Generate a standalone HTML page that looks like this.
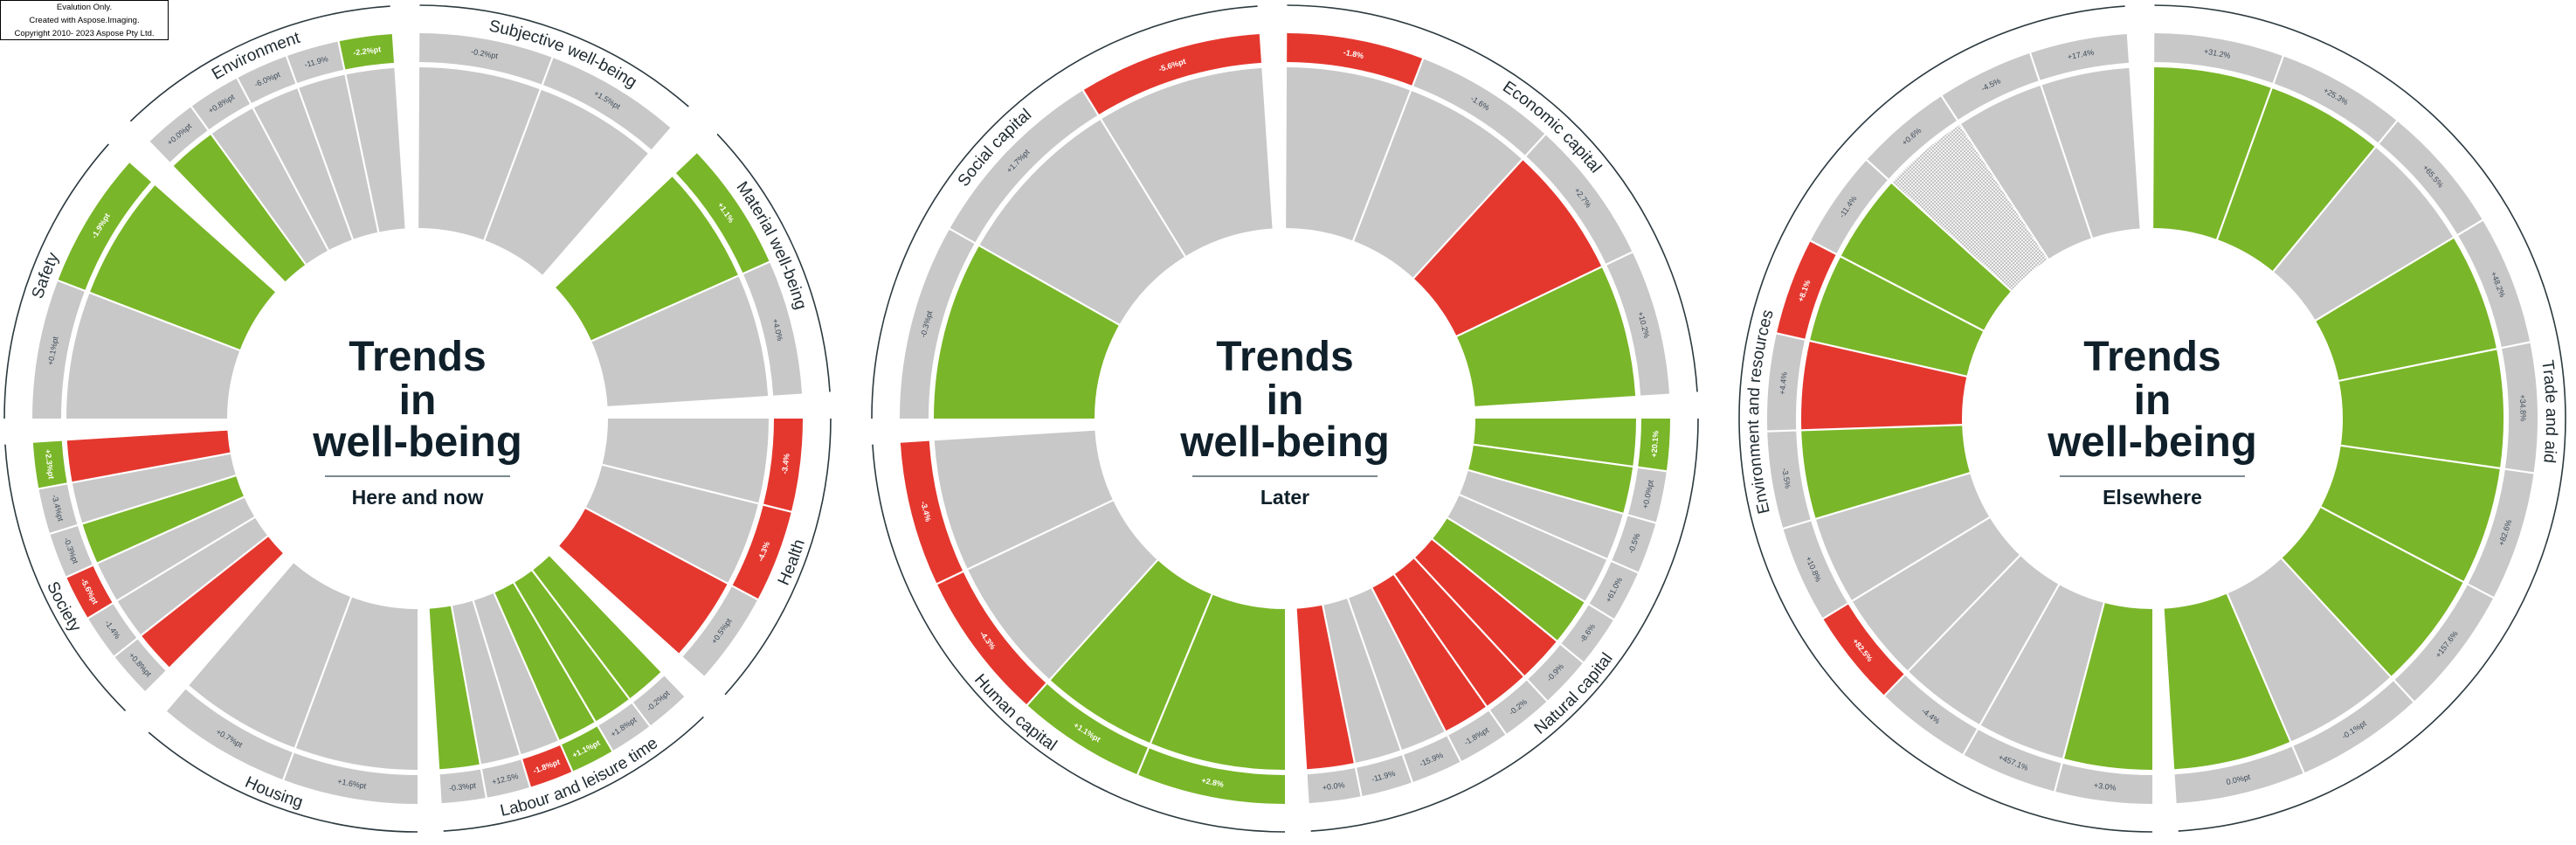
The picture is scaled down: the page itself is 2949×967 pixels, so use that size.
<!DOCTYPE html>
<html><head><meta charset="utf-8">
<style>
html,body{margin:0;padding:0;background:#fff;}
body{width:2949px;height:962px;overflow:hidden;position:relative;font-family:"Liberation Sans",sans-serif;}
#wm{position:absolute;left:0;top:0;width:193px;height:46px;border:1px solid #000;background:#fff;font-size:9.5px;line-height:15px;text-align:center;color:#000;box-sizing:border-box;padding-top:0px;}
</style></head><body>
<svg id="s" width="2949" height="962" xmlns="http://www.w3.org/2000/svg">
<defs>
<pattern id="dot" width="4" height="4" patternUnits="userSpaceOnUse">
<rect width="4" height="4" fill="#f2f2f2"/><rect width="2" height="2" fill="#c4c4c4"/><rect x="2" y="2" width="2" height="2" fill="#c4c4c4"/>
</pattern>
</defs>
</svg>
<div id="wm">Evalution Only.<br>Created with Aspose.Imaging.<br>Copyright 2010- 2023 Aspose Pty Ltd.</div>
<script>
var NS="http://www.w3.org/2000/svg",svg=document.getElementById('s');
var COL={g:"#7ab629",r:"#e4382f",s:"#c8c8c8",d:"url(#dot)"};
var CY=479,RI=218,RW=402,RB1=408,RB2=441,RL=473;
function P(cx,r,a){a=a*Math.PI/180;return [cx+r*Math.sin(a),CY-r*Math.cos(a)];}
function el(t,at,txt){var e=document.createElementNS(NS,t);for(var k in at)e.setAttribute(k,at[k]);if(txt!==undefined)e.textContent=txt;svg.appendChild(e);return e;}
function sector(cx,r1,r2,a1,a2,fill){
 var p1=P(cx,r2,a1),p2=P(cx,r2,a2),p3=P(cx,r1,a2),p4=P(cx,r1,a1),l=(a2-a1)>180?1:0;
 el('path',{d:"M"+p1+" A"+r2+","+r2+" 0 "+l+" 1 "+p2+" L"+p3+" A"+r1+","+r1+" 0 "+l+" 0 "+p4+"Z",fill:fill});
}
function radial(cx,r1,r2,a,w){var p=P(cx,r1,a),q=P(cx,r2,a);el('line',{x1:p[0],y1:p[1],x2:q[0],y2:q[1],stroke:"#fff","stroke-width":w});}
function arc(cx,r,a1,a2){var p=P(cx,r,a1),q=P(cx,r,a2);el('path',{d:"M"+p+" A"+r+","+r+" 0 0 1 "+q,fill:"none",stroke:"#2c3a40","stroke-width":1.6});}
var pid=0;
function label(cx,c,txt,cw){
 var id="lp"+(pid++),span=60,d;
 if(cw){var r=451,p=P(cx,r,c-span),q=P(cx,r,c+span);d="M"+p+" A"+r+","+r+" 0 0 1 "+q;}
 else{var r=465,p=P(cx,r,c+span),q=P(cx,r,c-span);d="M"+p+" A"+r+","+r+" 0 0 0 "+q;}
 var pa=document.createElementNS(NS,'path');pa.setAttribute('id',id);pa.setAttribute('d',d);pa.setAttribute('fill','none');svg.querySelector('defs').appendChild(pa);
 var t=el('text',{"font-size":19,fill:"#1e2a30","font-family":"Liberation Sans, sans-serif"});
 var tp=document.createElementNS(NS,'textPath');tp.setAttribute('href','#'+id);tp.setAttributeNS("http://www.w3.org/1999/xlink","xlink:href","#"+id);tp.setAttribute('startOffset','50%');tp.setAttribute('text-anchor','middle');tp.textContent=txt;t.appendChild(tp);
}
function group(cx,a1,a2,wedges,bands,splits){
 var n=wedges.length,b=[];
 if(splits){b=[a1].concat(splits).concat([a2]);}else{for(var i=0;i<=n;i++)b.push(a1+(a2-a1)*i/n);}
 for(var i=0;i<n;i++)sector(cx,RI,RW,b[i],b[i+1],COL[wedges[i]]);
 for(var i=1;i<n;i++)radial(cx,RI-2,RW+1,b[i],2.2);
 var m=bands.length,bb=[];
 if(m===n){bb=b;}else{for(var i=0;i<=m;i++)bb.push(a1+(a2-a1)*i/m);}
 for(var i=0;i<m;i++)sector(cx,RB1,RB2,bb[i],bb[i+1],COL[bands[i][0]]);
 for(var i=1;i<m;i++)radial(cx,RB1-1,RB2+1,bb[i],2.2);
 for(var i=0;i<m;i++){
  var a=(bb[i]+bb[i+1])/2,pt=P(cx,424.5,a),rot=(a>90&&a<270)?a-180:a;
  var c=bands[i][0]==='s'?"#3c4a58":"#fff";
  el('text',{x:0,y:0,transform:"translate("+pt[0].toFixed(1)+","+pt[1].toFixed(1)+") rotate("+rot.toFixed(1)+")","text-anchor":"middle","dominant-baseline":"central","font-size":9,fill:c,"font-weight":bands[i][0]==='s'?"normal":"bold"},bands[i].slice(1));
 }
 arc(cx,RL,a1,a2);
}
function center(cx,sub){
 el('text',{x:cx,y:424,"text-anchor":"middle","font-size":48,"font-weight":"bold",fill:"#10202a"},"Trends");
 el('text',{x:cx,y:474,"text-anchor":"middle","font-size":48,"font-weight":"bold",fill:"#10202a"},"in");
 el('text',{x:cx,y:522,"text-anchor":"middle","font-size":49,"font-weight":"bold",fill:"#10202a"},"well-being");
 el('line',{x1:cx-106,y1:545,x2:cx+106,y2:545,stroke:"#6a7a80","stroke-width":1.8});
 el('text',{x:cx,y:577,"text-anchor":"middle","font-size":23,"font-weight":"bold",fill:"#10202a"},sub);
}
// Chart 1
var c=478;
group(c,0.3,41,"ss",["s-0.2%pt","s+1.5%pt"],[20.5]);
group(c,46.5,86.3,"gs",["g+1.1%","s+4.0%"],[66]);
group(c,90,131.9,"ssr",["r-3.4%","r-4.3%","s+0.5%pt"],[104,118]);
group(c,136.2,176.4,"gggssg",["s-0.2%pt","s+1.8%pt","g+1.1%pt","r-1.8%pt","s+12.5%","s-0.3%pt"]);
group(c,180,220.6,"ss",["s+1.6%pt","s+0.7%pt"],[200.4]);
group(c,225,266.4,"rssgsr",["s+0.8%pt","s-1.4%","r-5.6%pt","s-0.3%pt","s-3.4%pt","g+2.3%pt"]);
group(c,270,311.6,"sg",["s+0.1%pt","g-1.9%pt"],[291]);
group(c,316,356.2,"gssss",["s+0.0%pt","s+0.8%pt","s-6.0%pt","s-11.9%","g-2.2%pt"]);
label(c,336,"Environment",1);label(c,21.7,"Subjective well-being",1);label(c,64,"Material well-being",1);
label(c,111,"Health",0);label(c,155.8,"Labour and leisure time",0);label(c,201,"Housing",0);
label(c,242,"Society",0);label(c,291,"Safety",1);
center(c,"Here and now");
// Chart 2
c=1471;
group(c,0.3,86.3,"ssrg",["r-1.8%","s-1.6%","s+2.7%","s+10.2%"],[21,42.5,64.4]);
group(c,90,176.4,"ggssgrrrssr",["g+20.1%","s+0.0%pt","s-0.5%","s+61.0%","s-8.6%","s-0.9%","s-0.2%","s-1.8%pt","s-15.9%","s-11.9%","s+0.0%"]);
group(c,180,266.4,"ggss",["g+2.8%","g+1.1%pt","r-4.3%","r-3.4%"],[202.5,222,244.6]);
group(c,270,356.2,"gss",["s-0.3%pt","s+1.7%pt","r-5.6%pt"],[299.5,328.4]);
label(c,313,"Social capital",1);label(c,42.5,"Economic capital",1);label(c,133.6,"Natural capital",0);label(c,222.5,"Human capital",0);
center(c,"Later");
// Chart 3
c=2464;
group(c,0.3,176.4,"ggsggggsg",["s+31.2%","s+25.3%","s+65.5%","s+48.2%","s+34.8%","s+82.6%","s+157.6%","s-0.1%pt","s0.0%pt"]);
group(c,180,356.2,"gssssgrggdss",["s+3.0%","s+457.1%","s-4.4%","r+82.5%","s+10.8%","s-3.5%","s+4.4%","r+8.1%","s-11.4%","s+0.6%","s-4.5%","s+17.4%"]);
label(c,89,"Trade and aid",1);label(c,271,"Environment and resources",1);
center(c,"Elsewhere");
</script>
</body></html>
